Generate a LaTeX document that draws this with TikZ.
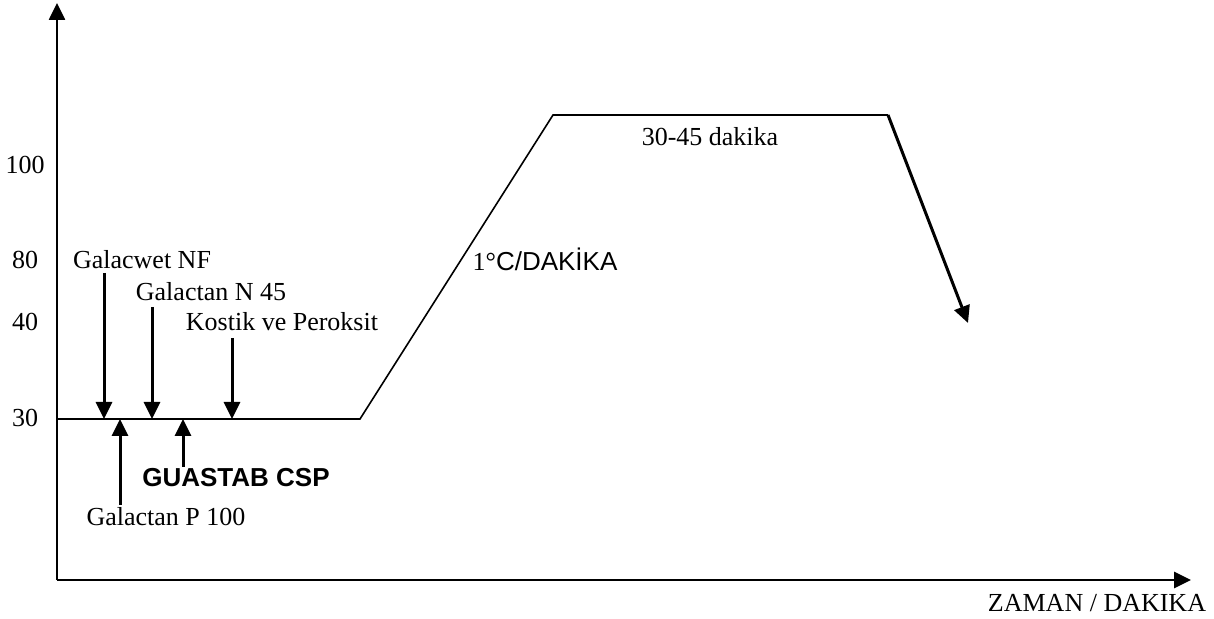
\documentclass[tikz,border=0pt]{standalone}
\usepackage{fontspec}
\setmainfont{Liberation Serif}
\newfontfamily\arialfont{Liberation Sans}
\usetikzlibrary{arrows.meta}

\tikzset{
    lbl/.style={font=\fontsize{13}{15}\selectfont, inner sep=0pt},
    feed/.style={-{Triangle[length=8.5pt, width=8pt]}, line width=1.5pt},
    curve/.style={line width=0.8pt}
}

\begin{document}
\begin{tikzpicture}[x=0.5pt, y=-0.5pt]
        \useasboundingbox (0,0) rectangle (1214,619);

        % axes
        \coordinate (o) at (57,580);
        \coordinate (ytop) at (57,3);
        \coordinate (xend) at (1191,580);
        \draw[feed, line width=1.3pt] (o) -- (ytop);
        \draw[feed, line width=1.3pt] (o) -- (xend);

        % temperature values
        \node[lbl] at (25,165) (t100) {100};
        \node[lbl] at (25,260) (t80) {80};
        \node[lbl] at (25,322) (t40) {40};
        \node[lbl] at (25,418) (t30) {30};
        \node[lbl] at (1097,603) (time) {ZAMAN / DAKIKA};

        % process curve
        \coordinate (p0) at (57,419);
        \coordinate (p1) at (360,419);
        \coordinate (p2) at (553,115);
        \coordinate (p3) at (888,115);
        \coordinate (p4) at (968,323);
        \draw[curve] (p0) -- (p1) -- (p2) -- (p3);
        \draw[feed] (p3) -- (p4);

        \node[lbl] at (545,259) (rate) {1°{\arialfont C/DAKİKA}};
        \node[lbl] at (710,137) (hold) {30-45 dakika};

        % chemicals added at 30
        \node[lbl] at (142,260) (wet) {Galacwet NF};
        \node[lbl] at (211,292) (n45) {Galactan N 45};
        \node[lbl] at (282,322) (kostik) {Kostik ve Peroksit};
        \node[lbl] at (166,517) (p100) {Galactan P 100};
        \node[lbl, font=\fontsize{13}{15}\selectfont\arialfont\bfseries] at (236,478) (csp) {GUASTAB CSP};

        \coordinate (a1) at (104,419);
        \coordinate (a2) at (152,419);
        \coordinate (a3) at (232,419);
        \coordinate (b1) at (120,419);
        \coordinate (b2) at (183,419);
        \coordinate (s1) at (104,273);
        \coordinate (s2) at (152,307);
        \coordinate (s3) at (232,338);
        \coordinate (u1) at (120,505);
        \coordinate (u2) at (183,467);

        \draw[feed] (s1) -- (a1);
        \draw[feed] (s2) -- (a2);
        \draw[feed] (s3) -- (a3);
        \draw[feed] (u1) -- (b1);
        \draw[feed] (u2) -- (b2);
    \end{tikzpicture}
\end{document}
